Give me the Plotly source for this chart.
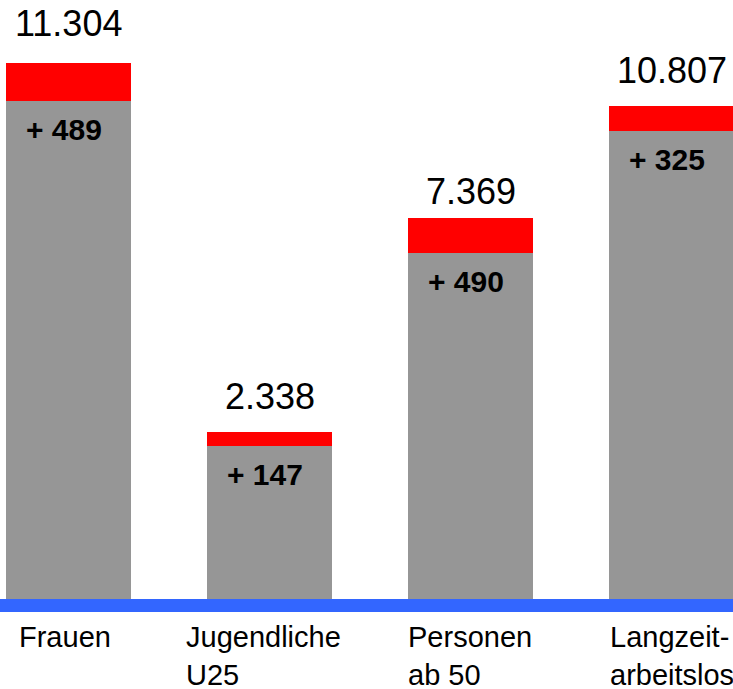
"""Stacked bar chart: Arbeitslose nach Personengruppen (Bestand + Zuwachs)."""

import plotly.graph_objects as go

# Category labels (line break as in the source graphic)
categories = ["Frauen", "Jugendliche<br>U25", "Personen<br>ab 50", "Langzeit-<br>arbeitslos"]

# Printed values
totals = [11304, 2338, 7369, 10807]
increases = [489, 147, 490, 325]

# Bar heights as drawn in the source graphic (its bars are not to scale,
# so heights are read off the picture, in drawing units)
base_heights = [498, 153, 346, 468]
increase_heights = [38, 14, 35, 25]

GREY = "#969696"
RED = "#FF0000"
BLUE = "#3366FF"
FONT = "Arial, Liberation Sans, sans-serif"


def bar_chart() -> go.Figure:
    x = list(range(len(categories)))
    fig = go.Figure()

    # Grey base part
    fig.add_trace(
        go.Bar(
            x=x,
            y=base_heights,
            marker=dict(color=GREY, line=dict(width=0)),
            width=0.62,
            hoverinfo="skip",
        )
    )

    # Red increase on top
    fig.add_trace(
        go.Bar(
            x=x,
            y=increase_heights,
            marker=dict(color=RED, line=dict(width=0)),
            width=0.62,
            hoverinfo="skip",
        )
    )

    # Totals above the bars (gap to the bar varies a bit in the original)
    total_shift = [17, 13, 4, 13]
    for i, (b, r, t) in enumerate(zip(base_heights, increase_heights, totals)):
        fig.add_annotation(
            x=i, y=b + r,
            text=f"{t:,}".replace(",", "."),
            showarrow=False,
            yanchor="bottom",
            yshift=total_shift[i],
            font=dict(size=36, color="black", family=FONT),
        )

    # Increase labels inside the grey part
    for i, (b, inc) in enumerate(zip(base_heights, increases)):
        fig.add_annotation(
            x=i, y=b,
            text=f"<b>+ {inc}</b>",
            showarrow=False,
            yanchor="top",
            yshift=-10,
            xshift=-5,
            font=dict(size=30, color="black", family=FONT),
        )

    # Category labels below the blue base line
    label_shift = [-4, -6, -1, 0]
    for i, cat in enumerate(categories):
        fig.add_annotation(
            x=i, y=0,
            text=cat,
            showarrow=False,
            align="left",
            xanchor="center",
            yanchor="top",
            xshift=label_shift[i],
            yshift=-20,
            font=dict(size=29, color="black", family=FONT),
        )

    fig.update_layout(
        barmode="stack",
        showlegend=False,
        width=733,
        height=689,
        margin=dict(l=0, r=0, t=0, b=90),
        plot_bgcolor="white",
        paper_bgcolor="white",
        xaxis=dict(
            range=[-0.341, 3.306],
            showticklabels=False,
            showgrid=False,
            zeroline=False,
            ticks="",
            showline=True,
            linecolor=BLUE,
            linewidth=13,
            fixedrange=True,
        ),
        yaxis=dict(
            range=[0, 599],
            visible=False,
            showgrid=False,
            zeroline=False,
            fixedrange=True,
        ),
    )

    return fig


fig = bar_chart()
# drop the browser's default body margin so the figure fills the window
fig.write_html(
    "out.html",
    config={"displayModeBar": False},
    post_script="document.body.style.margin = '0';",
)
